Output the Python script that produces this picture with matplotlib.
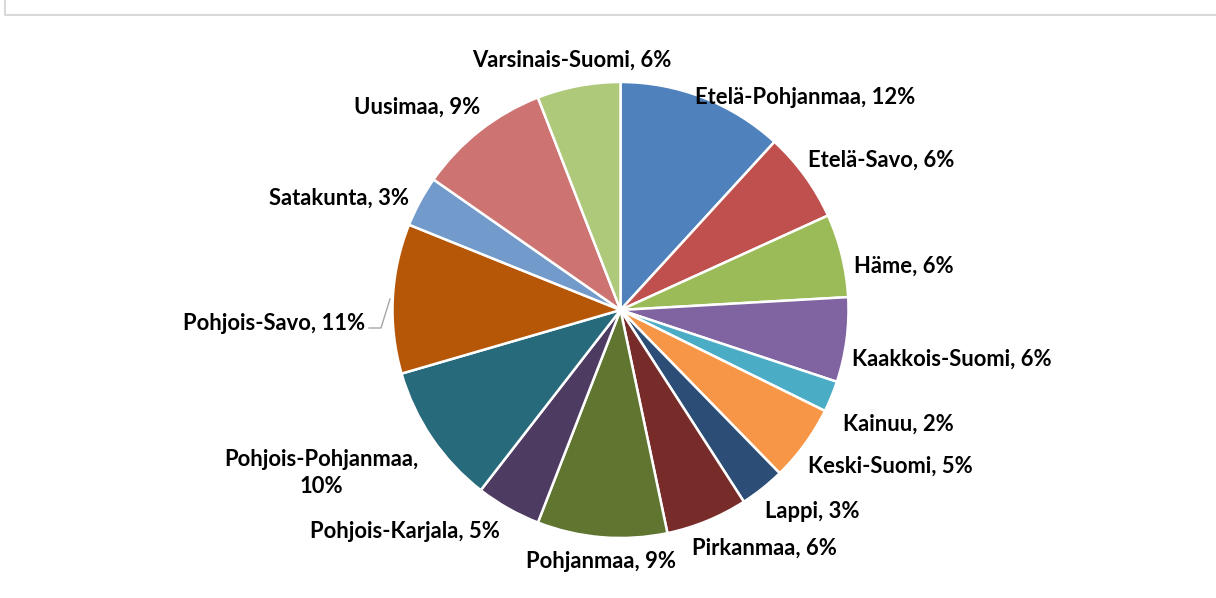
import matplotlib.pyplot as plt
import numpy as np

regions = ['Etelä-Pohjanmaa', 'Etelä-Savo', 'Häme', 'Kaakkois-Suomi', 'Kainuu',
           'Keski-Suomi', 'Lappi', 'Pirkanmaa', 'Pohjanmaa', 'Pohjois-Karjala',
           'Pohjois-Pohjanmaa', 'Pohjois-Savo', 'Satakunta', 'Uusimaa', 'Varsinais-Suomi']
shares = [11.8, 6.4, 5.9, 6.0, 2.2, 5.4, 3.2, 5.8, 9.2, 4.6, 10.0, 10.6, 3.6, 9.4, 5.9]
pct_labels = ['12%', '6%', '6%', '6%', '2%', '5%', '3%', '6%', '9%', '5%',
              '10%', '11%', '3%', '9%', '6%']
colors = ['#4F81BD', '#C0504D', '#9BBB59', '#8064A2', '#4BACC6', '#F79646', '#2C4D75',
          '#772C2A', '#5F7530', '#4D3B62', '#276A7C', '#B65708', '#729ACA', '#CD7371',
          '#AFC97A']

# label centres in pixel coords (x from left, y from top)
label_pos = [(805, 98), (881, 160), (904, 266), (952, 359), (898, 424),
             (890, 466), (812, 511), (764, 548), (601, 561), (405, 531),
             (321, 473), (274, 323), (339, 198), (417, 107), (572, 60)]

W, H = 1216, 598
fig = plt.figure(figsize=(W / 100, H / 100), dpi=100)
ax = fig.add_axes([0, 0, 1, 1])

cx, cy, r = 620.5, H - 310, 228
ax.pie(shares, colors=colors, startangle=90, counterclock=False,
       center=(cx, cy), radius=r,
       wedgeprops=dict(edgecolor='white', linewidth=1.8))

for name, pct, (x, y) in zip(regions, pct_labels, label_pos):
    txt = f'{name},\n{pct}' if name == 'Pohjois-Pohjanmaa' else f'{name}, {pct}'
    ax.text(x, H - y, txt, ha='center', va='center', fontsize=15.8,
            fontweight='bold', family='Lato', color='#000000', linespacing=1.4)

# leader line for Pohjois-Savo
ax.plot([369, 381, 390], [H - 328, H - 328, H - 299], color='#A6A6A6', lw=1)

# chart border
ax.plot([4.5, 4.5, W], [H, H - 14.5, H - 14.5], color='#D9D9D9', lw=1.5)

ax.set_xlim(0, W)
ax.set_ylim(0, H)
ax.set_aspect('equal')
ax.axis('off')
fig.savefig('out.png', dpi=100)
